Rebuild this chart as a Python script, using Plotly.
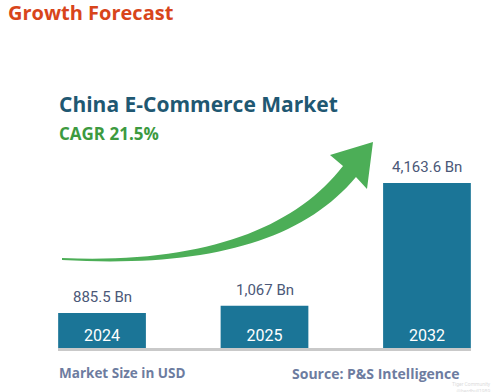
import plotly.graph_objects as go

# ---- data ----
years = ["2024", "2025", "2032"]
market_size = [885.5, 1067.0, 4163.6]
value_labels = ["885.5 Bn", "1,067 Bn", "4,163.6 Bn"]
title_top = "Growth Forecast"
title_main = "China E-Commerce Market"
cagr_label = "CAGR 21.5%"
footer_left = "Market Size in USD"
footer_right = "Source: P&S Intelligence"
watermark = "Tiger Community<br>@herdbull1989"

W, H = 494, 392
L, R, T, B = 58, 23, 100, 44
plot_w = W - L - R
plot_h = H - T - B


def fx(x):
    return (x - L) / plot_w


def fy(y):
    return (H - B - y) / plot_h


fig = go.Figure()
fig.add_trace(go.Bar(
    x=years, y=market_size, width=0.54,
    marker=dict(color="#1b7597", line=dict(width=0)),
    text=years, textposition="inside", insidetextanchor="start",
    textfont=dict(color="white", size=16, family="Roboto"),
    textangle=0, hoverinfo="skip",
))

arrow_pts = [
    "M", (62, 258), "C", (205, 264), (295, 228), (343, 166),
    "L", (330, 155), "L", (373, 142), "L", (367, 189), "L", (356, 177),
    "C", (302, 242), (205, 268), (62, 260), "Z",
]
arrow = " ".join(p if isinstance(p, str) else f"{fx(p[0]):.4f},{fy(p[1]):.4f}"
                 for p in arrow_pts)
fig.add_shape(type="path", path=arrow, xref="paper", yref="paper",
              fillcolor="#4cae57", line=dict(width=0), layer="below")

annotations = []
for i, (v, lab) in enumerate(zip(market_size, value_labels)):
    annotations.append(dict(
        x=i, y=v, xref="x", yref="y", text=lab, showarrow=False,
        yanchor="middle", yshift=16,
        font=dict(size=15, color="#4b5878", family="Roboto")))

annotations += [
    dict(text=f"<b>{title_top}</b>", x=fx(6), y=fy(12), xref="paper", yref="paper",
         xanchor="left", yanchor="middle", showarrow=False,
         font=dict(size=20, color="#d8451b", family="Open Sans")),
    dict(text=f"<b>{title_main}</b>", x=fx(57), y=fy(104), xref="paper", yref="paper",
         xanchor="left", yanchor="middle", showarrow=False,
         font=dict(size=21, color="#1f5872", family="Open Sans")),
    dict(text=f"<b>{cagr_label}</b>", x=fx(57), y=fy(133), xref="paper", yref="paper",
         xanchor="left", yanchor="middle", showarrow=False,
         font=dict(size=17, color="#3d9a3f", family="Open Sans")),
    dict(text=f"<b>{footer_left}</b>", x=fx(57), y=fy(373), xref="paper", yref="paper",
         xanchor="left", yanchor="middle", showarrow=False,
         font=dict(size=13.5, color="#6d7ca0", family="Open Sans")),
    dict(text=f"<b>{footer_right}</b>", x=fx(290), y=fy(373), xref="paper", yref="paper",
         xanchor="left", yanchor="middle", showarrow=False,
         font=dict(size=14, color="#6d7ca0", family="Open Sans")),
    dict(text=watermark, x=fx(493), y=fy(387), xref="paper", yref="paper",
         xanchor="right", yanchor="middle", showarrow=False, align="right",
         font=dict(size=5, color="#dcdcdc", family="Roboto")),
]

ymax = max(market_size) * plot_h / 165.0
fig.update_layout(
    width=W, height=H,
    margin=dict(l=L, r=R, t=T, b=B),
    paper_bgcolor="white", plot_bgcolor="white",
    showlegend=False,
    xaxis=dict(type="category", range=[-0.271, 2.271], showticklabels=False,
               showgrid=False, zeroline=False, showline=True,
               linecolor="#c9c9c9", linewidth=3, fixedrange=True),
    yaxis=dict(range=[0, ymax], visible=False, showgrid=False, fixedrange=True),
    font=dict(family="Open Sans"),
    annotations=annotations,
)

fig.write_html("out.html", config={"displayModeBar": False},
               post_script="document.body.style.margin='0px';")
